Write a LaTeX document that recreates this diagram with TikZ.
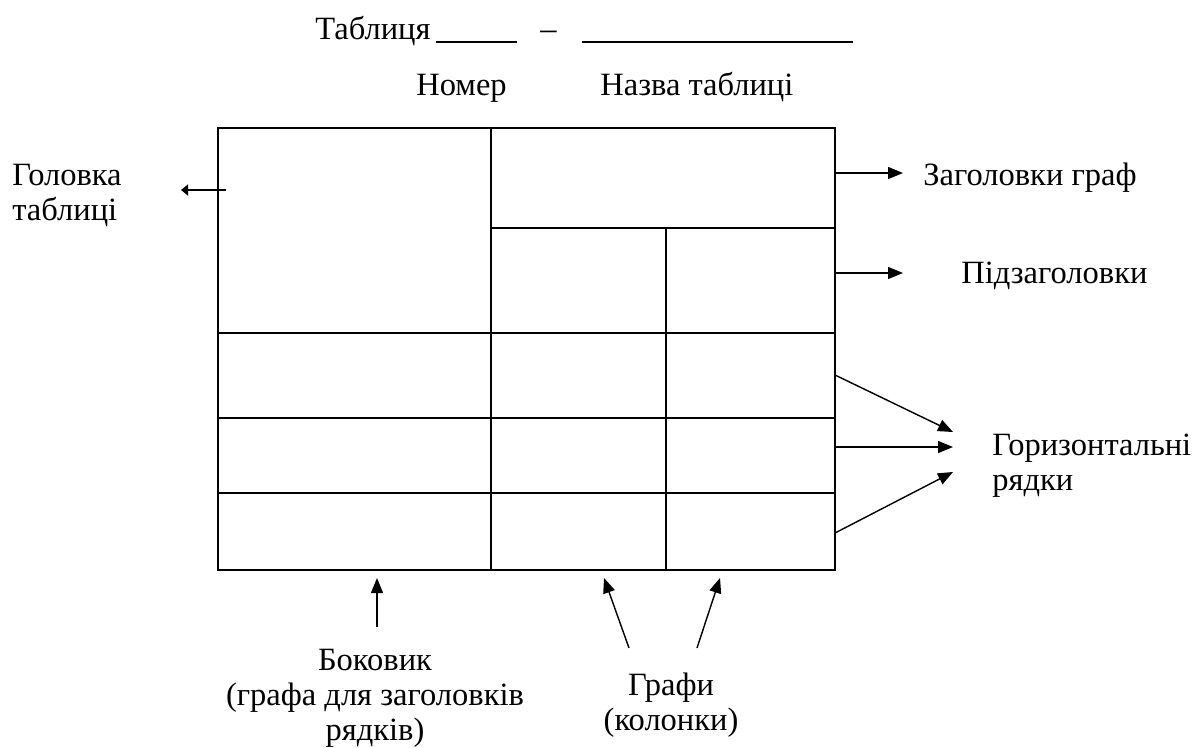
\documentclass[tikz,border=0pt]{standalone}
\usepackage{fontspec}
\setmainfont{Liberation Serif}
\usetikzlibrary{arrows.meta}

\begin{document}
\begin{tikzpicture}[x=0.02cm, y=-0.02cm, font=\rmfamily\fontsize{18.5}{19.9}\selectfont,
    grid/.style={line width=1.1pt},
    pointer/.style={line width=0.8pt, -{Triangle[length=0.3cm, width=0.24cm]}},
    lbl/.style={inner sep=0pt, anchor=base west, align=left},
    mid/.style={inner sep=0pt, anchor=base, align=center}]
        \useasboundingbox (0,0) rectangle (1192,747);
        % Title line
        \node[lbl] (title) at (315,39) {Таблиця};
        \draw[line width=0.7pt] (436,42) -- (517,42); % number blank
        \node[lbl] (dash) at (540,39) {–};
        \draw[line width=0.7pt] (582,42) -- (853,42); % name blank
        \node[lbl] (number) at (416,95) {Номер};
        \node[lbl] (name) at (600,95) {Назва таблиці};
        % Table
        \draw[grid] (218,128) rectangle (835,570);
        \draw[grid] (491,128) -- (491,570);
        \draw[grid] (666,228) -- (666,570);
        \draw[grid] (491,228) -- (835,228);
        \foreach \y in {333,418,493}
            \draw[grid] (218,\y) -- (835,\y);
        % Labels (multi-line nodes sit on their last line)
        \node[lbl] (head) at (12,220) {Головка\\таблиці};
        \node[lbl] (cols) at (923,185) {Заголовки граф};
        \node[lbl] (subcols) at (961,283) {Підзаголовки};
        \node[lbl] (rows) at (992,490) {Горизонтальні\\рядки};
        \node[mid] (stub) at (375,740) {Боковик\\(графа для заголовків\\рядків)};
        \node[mid] (graphs) at (671,730) {Графи\\(колонки)};
        % Arrows
        \coordinate (headtip) at (181,190);
        \draw[-{Triangle[length=0.14cm, width=0.22cm]}, line width=0.8pt] (226,190) -- (headtip);
        \coordinate (colstip) at (903,173);
        \draw[pointer] (835,173) -- (colstip);
        \coordinate (subtip) at (903,273);
        \draw[pointer] (835,273) -- (subtip);
        \coordinate (rowtipa) at (953,432);
        \coordinate (rowtipb) at (953,447);
        \coordinate (rowtipc) at (953,472);
        \draw[pointer] (835,375) -- (rowtipa);
        \draw[pointer] (835,447) -- (rowtipb);
        \draw[pointer] (835,533) -- (rowtipc);
        \coordinate (stubtail) at (377,627);
        \draw[pointer] (stubtail) -- (377,578);
        \coordinate (graphtaila) at (629,648);
        \coordinate (graphtailb) at (697,648);
        \draw[pointer] (graphtaila) -- (604,578);
        \draw[pointer] (graphtailb) -- (720,578);
    \end{tikzpicture}
\end{document}
